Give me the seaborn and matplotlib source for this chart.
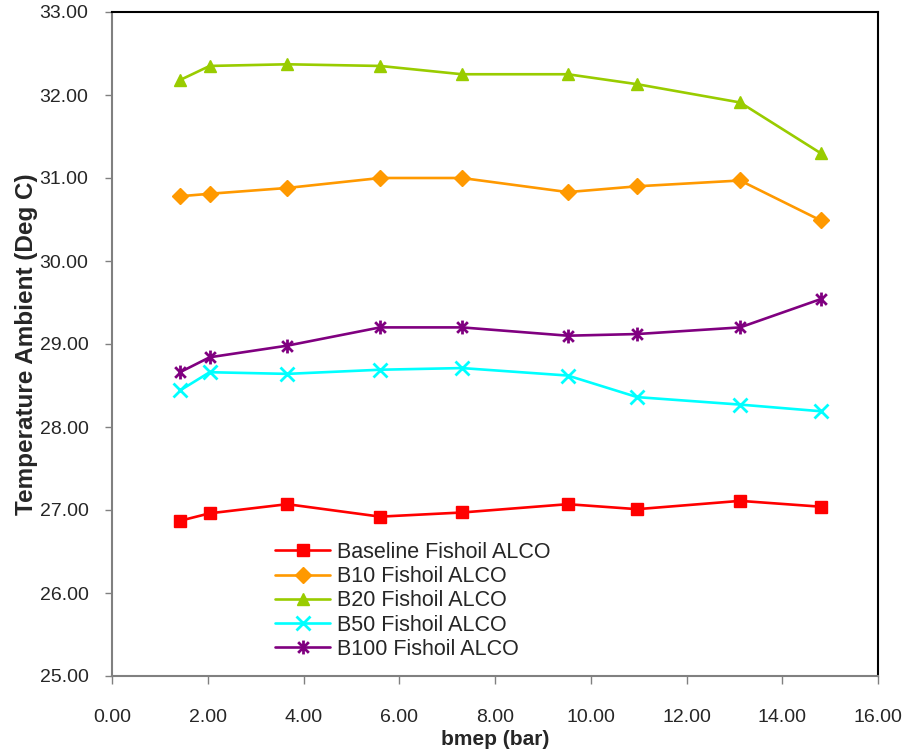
import matplotlib
matplotlib.use("Agg")
import matplotlib.pyplot as plt
import seaborn as sns
import numpy as np
import pandas as pd
from matplotlib.path import Path

# ---- data ----
bmep = [1.42, 2.04, 3.66, 5.60, 7.31, 9.52, 10.97, 13.12, 14.80]
baseline = [26.87, 26.96, 27.07, 26.92, 26.97, 27.07, 27.01, 27.11, 27.04]
b10 = [30.78, 30.81, 30.88, 31.00, 31.00, 30.83, 30.90, 30.97, 30.49]
b20 = [32.18, 32.35, 32.37, 32.35, 32.25, 32.25, 32.13, 31.91, 31.30]
b50 = [28.44, 28.66, 28.64, 28.69, 28.71, 28.62, 28.36, 28.27, 28.19]
b100 = [28.66, 28.84, 28.98, 29.20, 29.20, 29.10, 29.12, 29.20, 29.54]

labels = ["Baseline Fishoil ALCO", "B10 Fishoil ALCO", "B20 Fishoil ALCO",
          "B50 Fishoil ALCO", "B100 Fishoil ALCO"]
series = [baseline, b10, b20, b50, b100]
colors = ["#FF0000", "#FF9900", "#99CC00", "#00FFFF", "#800080"]

xticks = [0, 2, 4, 6, 8, 10, 12, 14, 16]
yticks = [25, 26, 27, 28, 29, 30, 31, 32, 33]

# Excel-style star marker: x with vertical bar
star_path = Path([(-1, -1), (1, 1), (-1, 1), (1, -1), (0, -1.3), (0, 1.3)],
                 [Path.MOVETO, Path.LINETO, Path.MOVETO, Path.LINETO, Path.MOVETO, Path.LINETO])
markers = ["s", "D", "^", "x", star_path]
msizes = [9, 8, 9, 10, 10]

sns.set_theme(style="white")
plt.rcParams['font.family'] = ['Liberation Sans', 'DejaVu Sans']

fig = plt.figure(figsize=(9.11, 7.53), dpi=100)
ax = fig.add_axes([112/911, 1-676/753, (878-112)/911, (676-12)/753])

for lab, ys, c, m, ms in zip(labels, series, colors, markers, msizes):
    df = pd.DataFrame({"bmep": bmep, "T": ys})
    mew = 2.0 if m in ("x",) or isinstance(m, Path) else 1
    sns.lineplot(data=df, x="bmep", y="T", ax=ax, color=c, marker=m,
                 markersize=ms, markeredgecolor=c, markerfacecolor=c,
                 markeredgewidth=mew, linewidth=1.9, label=lab)

ax.set_xlim(0, 16)
ax.set_ylim(25, 33)
ax.set_xticks(xticks)
ax.set_yticks(yticks)
ax.set_xticklabels([f"{v:.2f}" for v in xticks])
ax.set_yticklabels([f"{v:.2f}" for v in yticks])
ax.tick_params(axis='x', direction='out', length=6, width=1, color='#808080',
               pad=18, labelsize=14, bottom=True)
ax.tick_params(axis='y', direction='out', length=5, width=1, color='#808080',
               pad=12, labelsize=14, left=True)
for s in ax.spines.values():
    s.set_color('black')
    s.set_linewidth(1.5)
ax.spines['left'].set_color('#808080')
ax.spines['bottom'].set_color('#808080')

ax.set_xlabel("bmep (bar)", fontsize=15, fontweight='bold')
ax.xaxis.set_label_coords(0.5, -0.082)
ax.set_ylabel("Temperature Ambient (Deg C)", fontsize=17.5, fontweight='bold', labelpad=1)

leg = ax.legend(loc='upper left', bbox_to_anchor=(0.213, 0.202), frameon=False,
                borderaxespad=0, borderpad=0, fontsize=15.5, handlelength=2.55,
                handletextpad=0.33, labelspacing=0.15)

fig.savefig("out.png", dpi=100)
